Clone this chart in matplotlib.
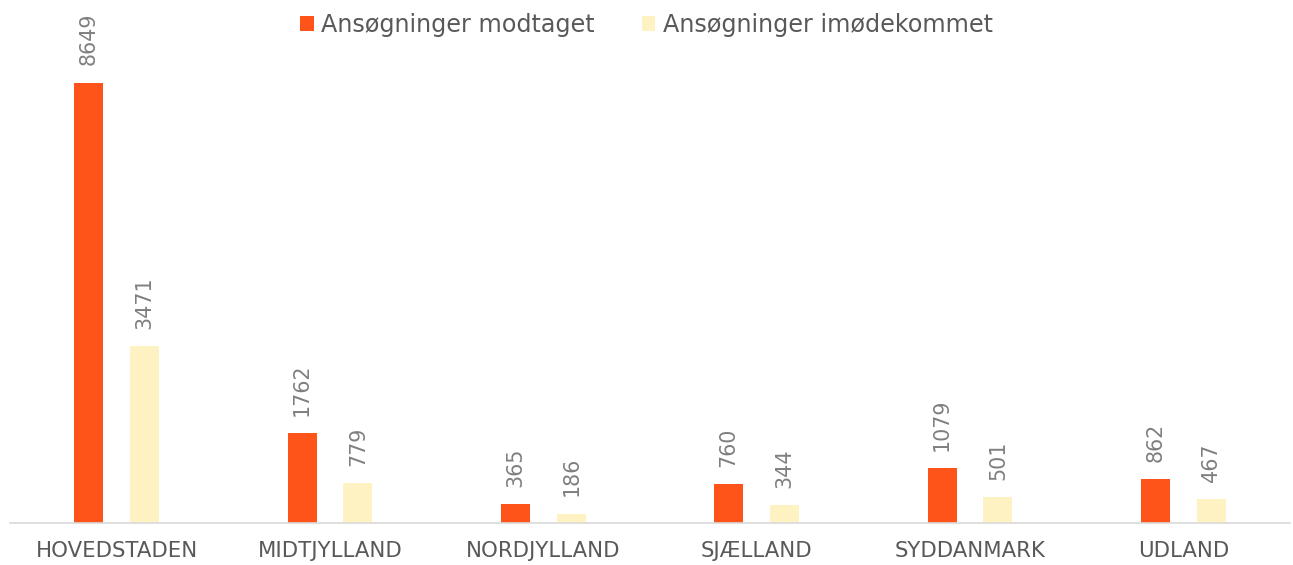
import numpy as np
import matplotlib.pyplot as plt

plt.rcParams['font.family'] = ['DejaVu Sans']

regions = ["HOVEDSTADEN", "MIDTJYLLAND", "NORDJYLLAND", "SJÆLLAND", "SYDDANMARK", "UDLAND"]
received = [8649, 1762, 365, 760, 1079, 862]
granted = [3471, 779, 186, 344, 501, 467]
series_names = ["Ansøgninger modtaget", "Ansøgninger imødekommet"]

col_recv = "#FF5419"
col_gran = "#FFF2C2"
txt_col = "#595959"
lbl_col = "#7F7F7F"

fig = plt.figure(figsize=(12.93, 5.65), dpi=100)
ax = fig.add_axes([10 / 1293, 1 - 523 / 565, 1280 / 1293, 509 / 565])

x = np.arange(len(regions))
w = 0.136
off = 0.131
b1 = ax.bar(x - off, received, w, color=col_recv, label=series_names[0])
b2 = ax.bar(x + off, granted, w, color=col_gran, label=series_names[1])

for bars, vals in ((b1, received), (b2, granted)):
    for rect, v in zip(bars, vals):
        ax.annotate(str(v), (rect.get_x() + rect.get_width() / 2, v),
                    xytext=(0, 12.5), textcoords="offset points",
                    rotation=90, ha="center", va="bottom",
                    fontsize=14.9, color=lbl_col)

ax.set_xlim(-0.5, len(regions) - 0.5)
ax.set_ylim(0, 10000)
ax.set_yticks([])
ax.set_xticks(x)
ax.set_xticklabels(regions, fontsize=15.3, color=txt_col)
ax.tick_params(axis="x", length=0, pad=13)
for s in ("top", "right", "left"):
    ax.spines[s].set_visible(False)
ax.spines["bottom"].set_color("#D9D9D9")
ax.spines["bottom"].set_linewidth(1.2)

leg = fig.legend(loc="upper center", bbox_to_anchor=(0.5, 1.015), ncol=2,
                 frameon=False, fontsize=17.2, handlelength=0.55, handleheight=0.55,
                 handletextpad=0.3, columnspacing=2.0)
for t in leg.get_texts():
    t.set_color(txt_col)

fig.savefig("out.png", dpi=100)
